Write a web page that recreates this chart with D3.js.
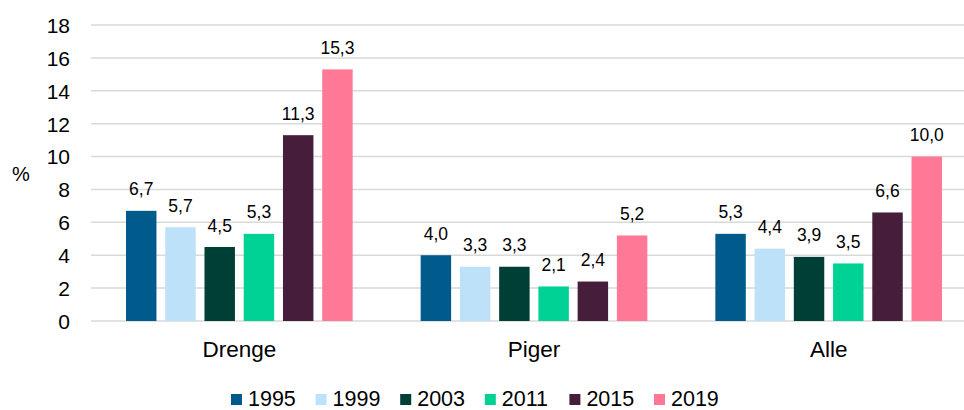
<!DOCTYPE html>
<html>
<head>
<meta charset="utf-8">
<script src="https://cdn.jsdelivr.net/npm/d3@7"></script>
<style>
  html, body { margin: 0; padding: 0; background: #fff; }
  svg { display: block; font-family: "Liberation Sans", Arial, sans-serif; }
</style>
</head>
<body>
<svg id="chart" width="964" height="410"></svg>
<script>
// Groups on the x axis and survey years (one bar per year in each group)
const categories = ["Drenge", "Piger", "Alle"];
const years = ["1995", "1999", "2003", "2011", "2015", "2019"];

// Share in percent, one array per year, ordered as categories
const values1995 = [6.7, 4.0, 5.3];
const values1999 = [5.7, 3.3, 4.4];
const values2003 = [4.5, 3.3, 3.9];
const values2011 = [5.3, 2.1, 3.5];
const values2015 = [11.3, 2.4, 6.6];
const values2019 = [15.3, 5.2, 10.0];
const seriesValues = [values1995, values1999, values2003, values2011, values2015, values2019];

const yTicks = [0, 2, 4, 6, 8, 10, 12, 14, 16, 18];
const yLabel = "%";

const colors = ["#005a8c", "#bee1fa", "#003f35", "#00d296", "#461e3c", "#ff7896"];

const svg = d3.select("#chart");

const x0 = d3.scaleBand().domain(categories).range([92, 976]).padding(0);
const groupPad = 34;
const x1 = d3.scaleBand().domain(years)
  .range([groupPad, x0.bandwidth() - groupPad])
  .paddingInner(0.224).paddingOuter(0);
const y = d3.scaleLinear().domain([0, 18]).range([321, 25]);
const color = d3.scaleOrdinal().domain(years).range(colors);

const fmt = v => d3.format(".1f")(v).replace(".", ",");

// Gridlines
svg.append("g")
  .selectAll("line")
  .data(yTicks)
  .join("line")
  .attr("x1", 91).attr("x2", 976)
  .attr("y1", d => y(d)).attr("y2", d => y(d))
  .attr("stroke", "#d9d9d9").attr("stroke-width", 1.5);

// Y axis tick labels
const yAxis = d3.axisLeft(y).tickValues(yTicks).tickSize(0).tickPadding(0)
  .tickFormat(d => d);
const yg = svg.append("g").attr("transform", "translate(70,0)").call(yAxis);
yg.select(".domain").remove();
yg.selectAll("text")
  .attr("font-size", 21).attr("fill", "#000")
  .attr("font-family", "Liberation Sans, Arial, sans-serif")
  .attr("dy", "0.35em");

svg.append("text").attr("x", 21).attr("y", 174).attr("dy", "0.35em")
  .attr("text-anchor", "middle").attr("font-size", 20).attr("fill", "#000")
  .text(yLabel);

// Bars
const rows = categories.map((c, ci) => ({
  cat: c,
  items: years.map((yr, si) => ({ year: yr, value: seriesValues[si][ci] }))
}));

const groups = svg.append("g").selectAll("g")
  .data(rows).join("g")
  .attr("transform", d => `translate(${x0(d.cat)},0)`);

groups.selectAll("rect")
  .data(d => d.items).join("rect")
  .attr("x", d => x1(d.year))
  .attr("width", x1.bandwidth())
  .attr("y", d => y(d.value))
  .attr("height", d => y(0) - y(d.value))
  .attr("fill", d => color(d.year));

groups.selectAll("text.val")
  .data(d => d.items).join("text")
  .attr("class", "val")
  .attr("x", d => x1(d.year) + x1.bandwidth() / 2)
  .attr("y", d => y(d.value) - 15.5)
  .attr("text-anchor", "middle").attr("font-size", 17.5).attr("fill", "#000")
  .text(d => fmt(d.value));

// Category labels
const xAxis = d3.axisBottom(x0).tickSize(0).tickPadding(0);
const xg = svg.append("g").call(xAxis);
xg.select(".domain").remove();
xg.selectAll("text")
  .attr("y", 357).attr("dy", 0)
  .attr("font-size", 22.5).attr("fill", "#000")
  .attr("font-family", "Liberation Sans, Arial, sans-serif");

// Legend
const legendX = d3.scalePoint().domain(years).range([231, 654]);
const legend = svg.append("g").selectAll("g")
  .data(years).join("g")
  .attr("transform", d => `translate(${legendX(d)},0)`);
legend.append("rect").attr("x", 0).attr("y", 394).attr("width", 11).attr("height", 11)
  .attr("fill", d => color(d));
legend.append("text").attr("x", 17).attr("y", 405.5)
  .attr("font-size", 21.5).attr("fill", "#000").text(d => d);
</script>
</body>
</html>
